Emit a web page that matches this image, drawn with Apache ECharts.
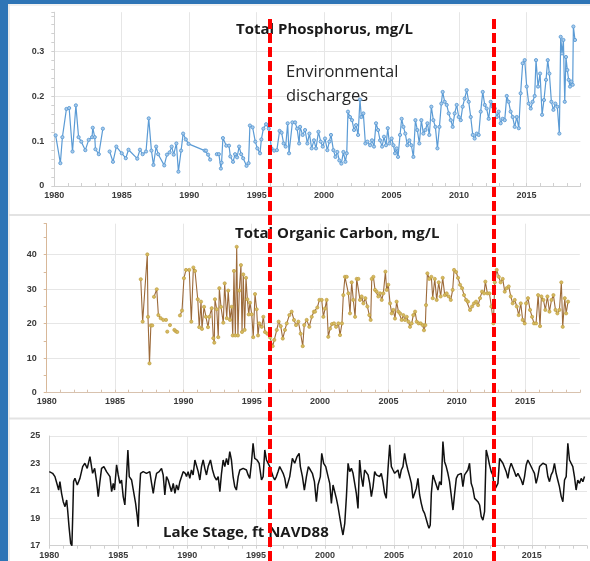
<!DOCTYPE html>
<html><head><meta charset="utf-8">
<script src="https://cdn.jsdelivr.net/npm/echarts@6/dist/echarts.min.js"></script>
<style>html,body{margin:0;padding:0;background:#fff}#c{width:590px;height:561px}</style>
</head><body><div id="c"></div>
<script>
// ---------- data ----------
const yearRange = [1980, 2019];
const dischargeYears = [1996.0, 2012.55];

const tpTitle = 'Total Phosphorus, mg/L';
const tocTitle = 'Total Organic Carbon, mg/L';
const stageTitle = 'Lake Stage, ft NAVD88';
const noteText = 'Environmental\ndischarges';

const tpPoints = [
[1980.1,0.113],[1980.45,0.051],[1980.6,0.109],[1980.9,0.172],[1981.1,0.174],[1981.35,0.077],[1981.6,0.180],[1981.8,0.109],[1982.0,0.099],[1982.3,0.080],[1982.55,0.103],[1982.8,0.109],[1982.85,0.130],[1983.0,0.109],[1983.05,0.082],[1983.3,0.071],[1983.6,0.128],[1983.85,null],
[1984.1,0.077],[1984.35,0.054],[1984.6,0.088],[1985.0,0.073],[1985.3,0.062],[1985.5,0.081],[1986.15,0.061],[1986.35,0.081],[1986.55,0.071],[1986.8,0.077],[1987.0,0.151],[1987.2,0.079],[1987.35,0.047],[1987.55,0.088],[1987.7,0.071],[1988.15,0.046],[1988.35,0.070],[1988.55,0.075],[1988.7,0.088],[1988.85,0.070],[1989.05,0.095],[1989.2,0.032],[1989.4,0.079],[1989.55,0.117],[1989.75,0.104],[1989.95,0.094],[1991.15,0.079],[1991.25,0.079],[1991.4,0.070],[1991.55,0.059],[1991.8,null],
[1992.05,0.071],[1992.2,0.071],[1992.35,0.039],[1992.4,0.052],[1992.5,0.107],[1992.75,0.090],[1992.95,0.090],[1993.05,0.066],[1993.25,0.054],[1993.4,0.071],[1993.55,0.064],[1993.7,0.088],[1993.85,0.071],[1994.0,0.062],[1994.25,0.045],[1994.4,0.051],[1994.5,0.135],[1994.7,0.131],[1994.9,0.099],[1995.05,0.084],[1995.25,0.073],[1995.35,0.104],[1995.5,0.128],[1995.7,0.138],[1995.9,0.128],[1996.1,0.084],[1996.3,0.079],[1996.5,0.080],[1996.7,0.123],[1996.85,0.119],[1997.0,0.095],[1997.15,0.088],[1997.3,0.140],[1997.4,0.073],[1997.65,0.142],[1997.85,0.142],[1998.0,0.128],[1998.15,0.095],
[1998.22,0.132],[1998.41,0.114],[1998.59,0.125],[1998.76,0.095],[1998.91,0.117],[1999.08,0.084],[1999.25,0.102],[1999.40,0.084],[1999.58,0.121],[1999.75,0.099],[1999.90,0.088],[2000.07,0.106],[2000.24,0.080],[2000.39,0.099],[2000.51,0.114],[2000.69,0.080],[2000.84,0.065],[2000.98,0.076],[2001.13,0.057],[2001.28,0.050],[2001.43,0.076],[2001.58,0.054],[2001.68,0.073],[2001.77,0.166],[2001.92,0.154],[2002.07,0.147],[2002.22,0.125],[2002.37,0.136],[2002.52,0.114],[2002.66,0.193],[2002.76,0.154],[2002.91,0.162],[2003.06,0.095],[2003.21,0.099],[2003.41,0.091],[2003.55,0.102],[2003.70,0.088],[2003.85,0.140],[2004.00,0.125],[2004.15,0.102],[2004.30,0.088],[2004.44,0.110],[2004.59,0.091],[2004.72,0.129],[2004.84,0.095],[2005.01,0.106],[2005.14,0.091],[2005.26,0.073],[2005.38,0.084],[2005.48,0.065],[2005.63,0.114],[2005.75,0.150],[2005.88,0.132],[2006.02,0.117],[2006.17,0.091],[2006.32,0.102],[2006.47,0.091],[2006.62,0.065],[2006.77,0.147],[2006.91,0.125],[2007.06,0.095],[2007.21,0.147],[2007.36,0.117],[2007.51,0.125],[2007.66,0.140],[2007.80,0.114],[2007.95,0.177],[2008.10,0.147],[2008.25,0.132],[2008.40,0.084],[2008.55,0.132],[2008.69,0.184],[2008.79,0.210],[2008.94,0.188],[2009.09,0.181],[2009.24,0.162],[2009.39,0.147],[2009.53,0.132],[2009.68,0.162],[2009.83,0.181],[2009.98,0.154],[2010.13,0.147],[2010.27,0.177],[2010.42,0.195],[2010.57,0.214],[2010.72,0.188],[2010.87,0.154],[2011.02,0.114],[2011.16,0.106],[2011.31,0.117],[2011.46,0.114],[2011.61,0.166],[2011.76,0.210],[2011.91,0.181],[2012.05,0.173],[2012.20,0.150],[2012.35,0.188],[2012.50,0.177],[2012.65,0.173],[2012.80,0.154],[2012.94,0.166],[2013.09,0.140],[2013.24,0.150],[2013.39,0.147],[2013.54,0.201],[2013.68,0.188],[2013.83,0.166],[2013.98,0.154],[2014.13,0.132],[2014.28,0.154],[2014.43,0.129],[2014.57,0.207],[2014.72,0.274],[2014.87,0.281],[2015.02,0.222],[2015.17,0.184],[2015.32,0.173],[2015.46,0.188],[2015.61,0.201],[2015.71,0.281],[2015.86,0.222],[2016.01,0.251],[2016.16,0.159],[2016.30,0.192],[2016.45,0.237],[2016.58,0.281],[2016.70,0.251],[2016.85,0.188],[2017.00,0.170],[2017.14,0.184],[2017.29,0.177],[2017.44,0.117],[2017.54,0.333],[2017.64,0.296],[2017.74,0.326],[2017.84,0.188],[2017.93,0.288],[2018.03,0.259],[2018.13,0.237],[2018.23,0.222],[2018.33,0.233],[2018.43,0.226],[2018.48,0.356],[2018.60,0.326]
];

const tocPoints = [
[1986.88,32.9],[1987.02,20.6],[1987.36,40.1],[1987.41,22.0],[1987.52,8.5],[1987.62,19.5],[1987.72,19.5],[1987.78,null],
[1987.85,27.8],[1988.05,30.0],[1988.17,22.5],[1988.34,21.6],[1988.53,21.1],[1988.73,21.1],[1988.78,null],
[1988.82,17.7],[1988.9,null],[1989.02,19.6],[1989.2,null],[1989.34,18.2],[1989.45,17.8],[1989.55,17.6],[1989.65,null],
[1989.75,22.4],[1989.90,23.8],[1990.04,33.2],[1990.19,35.6],[1990.43,35.6],[1990.58,20.6],[1990.73,36.3],[1990.85,35.3],[1991.05,27.1],[1991.16,19.0],[1991.29,26.4],[1991.36,18.5],[1991.51,24.9],[1991.65,22.0],[1991.80,19.0],[1991.90,22.0],[1992.07,24.5],[1992.19,15.8],[1992.26,14.5],[1992.31,27.1],[1992.44,24.2],[1992.55,16.1],[1992.63,30.3],[1992.75,24.9],[1992.92,20.3],[1993.02,31.7],[1993.17,21.6],[1993.28,29.6],[1993.41,21.1],[1993.53,24.9],[1993.61,16.6],[1993.70,35.3],[1993.80,16.6],[1993.90,42.3],[1993.99,16.6],[1994.09,29.6],[1994.21,37.0],[1994.29,17.6],[1994.38,34.3],[1994.48,18.2],[1994.58,33.3],[1994.68,27.1],[1994.78,22.7],[1994.87,26.1],[1995.0,22.7],[1995.11,16.1],[1995.24,28.6],[1995.36,24.2],[1995.46,16.6],[1995.55,20.1],[1995.73,19.1],[1995.85,22.0],[1995.97,17.6],[1996.14,17.1],[1996.34,16.0],[1996.53,13.5],[1996.65,15.3],[1996.83,18.2],[1996.97,20.6],[1997.12,19.3],[1997.27,15.7],[1997.43,18.2],[1997.56,20.1],[1997.75,22.5],[1997.92,23.5],[1998.09,21.1],[1998.24,19.6],[1998.41,20.6],[1998.58,17.1],[1998.73,13.5],[1998.84,19.6],[1999.02,21.1],[1999.21,19.1],[1999.39,22.0],[1999.55,23.5],
[1999.63,23.5],[1999.80,24.7],[1999.95,26.9],[2000.12,26.9],[2000.24,22.0],[2000.36,24.4],[2000.48,26.9],[2000.60,16.2],[2000.73,18.6],[2000.87,19.9],[2001.02,20.1],[2001.17,19.1],[2001.34,20.1],[2001.46,16.7],[2001.60,20.1],[2001.70,28.3],[2001.82,33.6],[2001.95,33.6],[2002.07,28.8],[2002.19,23.0],[2002.31,32.0],[2002.43,26.9],[2002.56,22.0],[2002.68,33.0],[2002.80,33.0],[2002.92,26.9],[2003.04,27.9],[2003.17,25.9],[2003.31,27.4],[2003.46,25.0],[2003.60,22.5],[2003.70,21.1],[2003.78,33.0],[2003.90,33.6],[2004.02,29.8],[2004.14,29.3],[2004.26,27.9],[2004.39,28.8],[2004.51,26.9],[2004.63,28.8],[2004.78,35.1],[2004.87,29.8],[2004.99,31.3],[2005.12,25.9],[2005.24,23.0],[2005.36,24.0],[2005.48,21.5],[2005.60,26.4],[2005.73,23.5],[2005.85,23.0],[2005.97,21.1],[2006.09,22.5],[2006.21,21.1],[2006.34,22.0],[2006.46,20.6],[2006.58,19.1],[2006.70,20.1],[2006.82,22.5],[2006.95,23.5],[2007.07,20.6],[2007.21,20.1],[2007.36,20.1],[2007.51,19.6],[2007.60,18.1],[2007.70,19.6],[2007.75,25.4],[2007.85,34.6],[2007.99,33.0],[2008.14,33.6],[2008.24,27.4],[2008.39,33.0],[2008.53,26.9],[2008.68,32.0],[2008.82,27.9],[2008.97,33.3],[2009.12,28.3],[2009.26,28.8],[2009.41,27.9],[2009.56,26.9],[2009.70,29.8],[2009.80,35.6],[2009.95,35.0],[2010.09,33.3],[2010.24,31.3],[2010.39,30.3],[2010.53,28.3],[2010.68,26.9],[2010.82,26.4],[2010.97,24.0],[2011.12,25.0],[2011.26,25.9],[2011.41,26.4],[2011.56,25.4],[2011.70,27.4],[2011.85,29.3],[2012.00,28.8],[2012.09,32.2],[2012.24,28.8],[2012.39,28.8],[2012.53,25.0],[2012.68,20.1],[2012.78,32.0],[2012.92,35.6],[2013.07,33.6],[2013.21,32.0],[2013.36,33.0],[2013.51,29.3],[2013.65,30.3],[2013.80,30.8],[2013.95,27.9],[2014.09,25.9],[2014.24,26.9],[2014.39,25.0],[2014.53,22.5],[2014.68,25.9],[2014.82,21.1],[2014.97,20.1],[2015.07,25.9],[2015.21,27.4],[2015.36,24.0],[2015.51,22.0],[2015.65,20.1],[2015.80,20.1],[2015.95,28.3],[2016.09,19.3],[2016.19,27.9],[2016.34,26.9],[2016.48,24.0],[2016.63,27.9],[2016.78,23.5],[2016.93,26.9],[2017.07,28.3],[2017.22,24.0],[2017.36,23.0],[2017.51,24.0],[2017.65,32.0],[2017.75,19.1],[2017.90,27.4],[2018.00,23.0],[2018.14,26.4]
];

const stagePoints = [
[1980.00,22.40],[1980.24,22.28],[1980.41,22.04],[1980.58,21.43],[1980.68,21.06],[1980.77,21.67],[1980.89,20.82],[1981.01,20.21],[1981.14,19.85],[1981.26,20.33],[1981.33,19.60],[1981.43,18.39],[1981.55,17.17],[1981.64,17.00],[1981.71,19.60],[1981.76,21.67],[1981.86,21.91],[1982.03,21.43],[1982.22,21.91],[1982.42,22.77],[1982.58,23.01],[1982.75,22.64],[1982.95,23.50],[1983.14,22.28],[1983.29,22.64],[1983.43,21.67],[1983.55,20.58],[1983.67,21.67],[1983.79,22.64],[1983.96,22.77],[1984.15,22.40],[1984.40,22.04],[1984.52,20.94],[1984.64,21.55],[1984.73,21.06],[1984.88,22.89],[1985.00,22.16],[1985.12,21.55],[1985.24,21.79],[1985.36,20.58],[1985.48,19.97],[1985.60,22.04],[1985.70,23.98],[1985.80,22.04],[1985.97,21.79],[1986.09,21.67],[1986.26,20.09],[1986.38,19.12],[1986.45,18.39],[1986.52,20.58],[1986.62,22.28],[1986.81,22.40],[1987.05,22.28],[1987.29,22.40],[1987.42,21.55],[1987.54,20.82],[1987.66,21.67],[1987.78,22.28],[1987.97,22.40],[1988.14,22.64],[1988.26,22.16],[1988.38,20.70],[1988.50,22.04],[1988.62,21.79],[1988.74,21.91],[1988.86,20.94],[1988.99,21.55],[1989.11,20.82],[1989.23,21.43],[1989.35,21.06],[1989.47,21.67],[1989.59,21.55],[1989.71,22.40],[1989.86,22.28],[1989.95,22.04],[1990.07,22.40],[1990.19,21.91],[1990.31,22.52],[1990.43,22.16],[1990.56,23.25],[1990.68,23.37],[1990.80,22.40],[1990.92,21.79],[1991.04,22.77],[1991.16,23.25],[1991.28,22.64],[1991.40,22.16],[1991.52,22.77],[1991.69,23.25],[1991.84,22.52],[1991.98,22.04],[1992.13,21.79],[1992.25,22.04],[1992.37,20.94],[1992.49,22.28],[1992.61,23.25],[1992.73,22.77],[1992.85,23.37],[1992.97,22.89],[1993.09,23.86],[1993.21,23.25],[1993.33,22.04],[1993.45,21.31],[1993.57,21.06],[1993.70,22.04],[1993.82,22.52],[1994.06,22.64],[1994.30,22.52],[1994.42,22.16],[1994.54,21.91],[1994.66,23.01],[1994.78,24.47],[1994.90,23.37],[1995.07,23.25],[1995.22,23.01],[1995.39,21.79],[1995.51,22.04],[1995.63,23.98],[1995.75,23.25],[1995.87,23.37],[1995.99,22.77],[1996.11,22.89],[1996.23,22.04],[1996.35,21.79],[1996.47,22.04],[1996.59,22.40],[1996.71,22.77],[1996.84,22.52],[1996.96,22.28],[1997.08,21.91],[1997.20,21.18],[1997.32,21.31],[1997.44,22.04],
[1997.63,23.37],[1997.80,23.01],[1997.97,23.50],[1998.12,23.74],[1998.21,22.77],[1998.36,22.04],[1998.50,21.06],[1998.65,22.04],[1998.79,22.77],[1998.94,22.52],[1999.08,22.28],[1999.23,21.67],[1999.37,20.21],[1999.49,21.43],[1999.66,22.04],[1999.76,23.74],[1999.90,23.01],[2000.05,22.77],[2000.22,22.04],[2000.34,21.55],[2000.46,20.09],[2000.58,21.43],[2000.70,21.31],[2000.82,20.45],[2000.94,19.85],[2001.06,19.12],[2001.18,18.39],[2001.30,17.78],[2001.43,18.63],[2001.55,20.58],[2001.67,23.01],[2001.79,22.40],[2001.91,22.64],[2002.03,22.28],[2002.15,21.55],[2002.27,20.82],[2002.39,19.72],[2002.51,23.25],[2002.63,22.04],[2002.75,21.31],[2002.87,22.52],[2003.00,22.64],[2003.12,22.16],[2003.24,21.55],[2003.36,20.58],[2003.48,21.31],[2003.60,22.40],[2003.72,22.16],[2003.84,22.28],[2003.96,22.04],[2004.08,22.28],[2004.20,21.67],[2004.32,20.82],[2004.44,20.45],[2004.57,22.64],[2004.69,24.35],[2004.81,22.77],[2004.93,22.52],[2005.05,22.28],[2005.17,22.16],[2005.29,22.52],[2005.41,21.91],[2005.53,22.52],[2005.65,22.77],[2005.77,23.74],[2005.89,23.01],[2006.01,22.52],[2006.14,22.04],[2006.26,21.55],[2006.38,20.45],[2006.50,20.82],[2006.62,21.18],[2006.74,21.91],[2006.86,20.70],[2006.98,20.09],[2007.10,19.60],[2007.22,19.36],[2007.34,19.24],[2007.46,18.51],[2007.54,18.27],[2007.63,18.51],[2007.71,20.82],[2007.83,22.16],[2007.95,21.79],[2008.07,21.43],[2008.19,21.06],[2008.31,21.67],[2008.43,21.43],[2008.55,24.59],[2008.67,23.13],[2008.79,22.77],[2008.91,22.28],[2009.03,21.67],[2009.15,20.70],[2009.28,19.60],[2009.40,20.82],[2009.52,21.91],[2009.64,22.16],[2009.76,22.04],[2009.88,22.28],[2010.00,21.31],[2010.12,22.16],[2010.24,22.28],[2010.36,22.52],[2010.48,23.01],[2010.60,21.55],[2010.72,21.18],[2010.85,20.45],[2010.97,20.45],[2011.09,20.21],[2011.21,19.97],[2011.33,19.12],[2011.45,18.87],[2011.57,19.48],[2011.69,23.98],[2011.81,23.50],[2011.93,22.89],[2012.05,22.40],[2012.17,22.16],[2012.29,21.06],[2012.42,21.31],[2012.54,21.55],[2012.66,23.37],[2012.78,23.25],[2012.90,23.01],[2013.02,22.89],[2013.14,22.40],[2013.26,21.91],[2013.38,22.64],[2013.50,23.01],[2013.62,23.13],[2013.74,22.40],[2013.86,22.04],[2013.99,22.28],[2014.11,22.16],[2014.23,21.79],[2014.35,21.43],[2014.47,22.04],[2014.59,22.89],[2014.71,23.25],[2014.83,23.01],[2014.95,22.89],[2015.07,22.52],[2015.19,22.28],[2015.31,21.55],[2015.43,22.04],[2015.56,22.77],[2015.68,22.89],[2015.80,23.01],[2015.92,23.13],[2016.04,22.89],[2016.16,22.04],[2016.28,21.67],[2016.40,22.16],[2016.52,22.40],[2016.64,23.01],[2016.76,22.28],[2016.88,21.79],[2017.00,21.31],[2017.13,20.58],[2017.25,20.21],[2017.37,21.79],[2017.49,22.04],[2017.61,24.47],[2017.73,23.25],[2017.85,23.13],[2017.97,22.77],[2018.09,22.04],[2018.21,21.06],[2018.33,21.79],[2018.46,21.55],[2018.58,21.91],[2018.70,21.67],[2018.82,22.04]
];

// ---------- styling helpers ----------
const GRID = '#e6e6e6';
const NONE = 'rgba(0,0,0,0)';
const LABEL = {color:'#3a3a3a', fontSize:9, fontWeight:'bold', fontFamily:'Liberation Sans, Arial, sans-serif'};

function tickList(min, max, step){
  const t=[]; const n=Math.floor((max-min)/step+1e-9);
  for(let i=0;i<=n;i++) t.push(+(min+i*step).toFixed(6));
  if(max - t[t.length-1] > 1e-9) t.push(max);
  return t;
}
function isStep(v, min, labelStep){
  const k=(v-min)/labelStep; return Math.abs(k-Math.round(k))<1e-6;
}
function makeAxis(o){
  const ticks = tickList(o.min, o.max, o.interval);
  const colors = ticks.map(v => isStep(v, o.min, o.labelStep) ? GRID : NONE);
  return {
    type:'value', gridIndex:o.grid, min:o.min, max:o.max, interval:o.interval,
    axisLine:{show:true, onZero:false, lineStyle:{color:o.lineColor, width:1}},
    axisTick:{show:o.tick!==false, inside:!!o.inside, length:3, lineStyle:{color:o.lineColor}},
    axisLabel:Object.assign({margin:o.margin, showMaxLabel:true,
      formatter:v => isStep(v, o.min, o.labelStep) && !(v===o.max && !isStep(o.max,o.min,o.labelStep)) ? String(+v.toFixed(3)) : ''}, LABEL),
    splitLine:{show:true, lineStyle:{color:colors, width:1}}
  };
}

const chart = echarts.init(document.getElementById('c'), null, {renderer:'canvas'});

const grids = [
  {left:54.3, right:9.6, top:12.2, bottom:375, outerBoundsMode:'none', containLabel:false},
  {left:46.7, right:10.2, top:223.7, bottom:168.3, outerBoundsMode:'none', containLabel:false},
  {left:49.3, right:3, top:436, bottom:15.3, outerBoundsMode:'none', containLabel:false},
  {left:54.3, right:9.6, top:18, bottom:0, outerBoundsMode:'none', containLabel:false}
];

const xAxes = [
  makeAxis({grid:0, min:yearRange[0], max:yearRange[1], interval:1, labelStep:5, lineColor:'#d0d0d0', inside:true, margin:5}),
  makeAxis({grid:1, min:yearRange[0], max:yearRange[1], interval:1, labelStep:5, lineColor:'#d8c2ae', inside:true, margin:4.5}),
  makeAxis({grid:2, min:yearRange[0], max:yearRange[1], interval:1, labelStep:5, lineColor:'#d0d0d0', inside:false, margin:5.5}),
  {type:'value', gridIndex:3, min:yearRange[0], max:yearRange[1], show:false}
];
const yAxes = [
  makeAxis({grid:0, min:0, max:0.388, interval:0.02, labelStep:0.1, lineColor:'#d0d0d0', margin:10}),
  makeAxis({grid:1, min:0, max:49, interval:5, labelStep:10, lineColor:'#d8b899', margin:10}),
  makeAxis({grid:2, min:17, max:25, interval:1, labelStep:2, lineColor:'#d0d0d0', margin:9, tick:false}),
  {type:'value', gridIndex:3, min:0, max:1, show:false}
];

const titleStyle = {fontSize:15, fontWeight:'bold', fontFamily:'Open Sans, Liberation Sans, sans-serif', color:'#1a1a1a', lineHeight:20};

chart.setOption({
  animation:false,
  backgroundColor:'#ffffff',
  grid:grids, xAxis:xAxes, yAxis:yAxes,
  title:[
    {text:tpTitle, left:236, top:20, padding:0, z:1, textStyle:titleStyle},
    {text:tocTitle, left:235, top:223.3, padding:0, z:1, textStyle:titleStyle},
    {text:stageTitle, left:163, top:522.7, padding:0, z:1, textStyle:titleStyle},
    {text:noteText, left:286, top:59.8, padding:0, z:1, textStyle:{fontSize:16.5, fontWeight:'normal', fontFamily:'Open Sans, sans-serif', color:'#262626', lineHeight:24.5}}
  ],
  graphic:[
    {type:'rect', shape:{x:0,y:0,width:8,height:561}, style:{fill:'#2e75b6'}, z:100},
    {type:'rect', shape:{x:0,y:0,width:590,height:4}, style:{fill:'#2e75b6'}, z:100},
    {type:'line', shape:{x1:9,y1:4,x2:9,y2:561}, style:{stroke:'#d9d9d9', lineWidth:1}, z:100},
    {type:'line', shape:{x1:8,y1:5,x2:590,y2:5}, style:{stroke:'#e3e3e3', lineWidth:1}, z:100},
    {type:'line', shape:{x1:9,y1:215,x2:590,y2:215}, style:{stroke:'#e3e3e3', lineWidth:2}, z:0},
    {type:'line', shape:{x1:9,y1:418.5,x2:590,y2:418.5}, style:{stroke:'#e3e3e3', lineWidth:2}, z:0}
  ],
  series:[
    {type:'line', xAxisIndex:0, yAxisIndex:0, data:tpPoints, connectNulls:false,
     symbol:'circle', symbolSize:3.2, showSymbol:true,
     lineStyle:{color:'#5b9bd5', width:1.2}, itemStyle:{color:'#a9cbea', borderColor:'#5b9bd5', borderWidth:0.9}},
    {type:'line', xAxisIndex:1, yAxisIndex:1, data:tocPoints, connectNulls:false,
     symbol:'circle', symbolSize:3.2, showSymbol:true,
     lineStyle:{color:'#9c6a3a', width:1.1}, itemStyle:{color:'#d6bb5e', borderColor:'#bf9d45', borderWidth:0.7}},
    {type:'line', xAxisIndex:2, yAxisIndex:2, data:stagePoints, symbol:'none',
     lineStyle:{color:'#111111', width:1.5}},
    {type:'line', xAxisIndex:3, yAxisIndex:3, data:[[yearRange[0],0],[yearRange[1],1]], symbol:'none', z:10,
     lineStyle:{opacity:0}, silent:true,
     markLine:{silent:true, symbol:['none','none'], label:{show:false}, animation:false,
       lineStyle:{color:'#ff0000', width:4, type:[10,4]},
       data:dischargeYears.map(x => ({xAxis:x}))}}
  ]
});
</script></body></html>
